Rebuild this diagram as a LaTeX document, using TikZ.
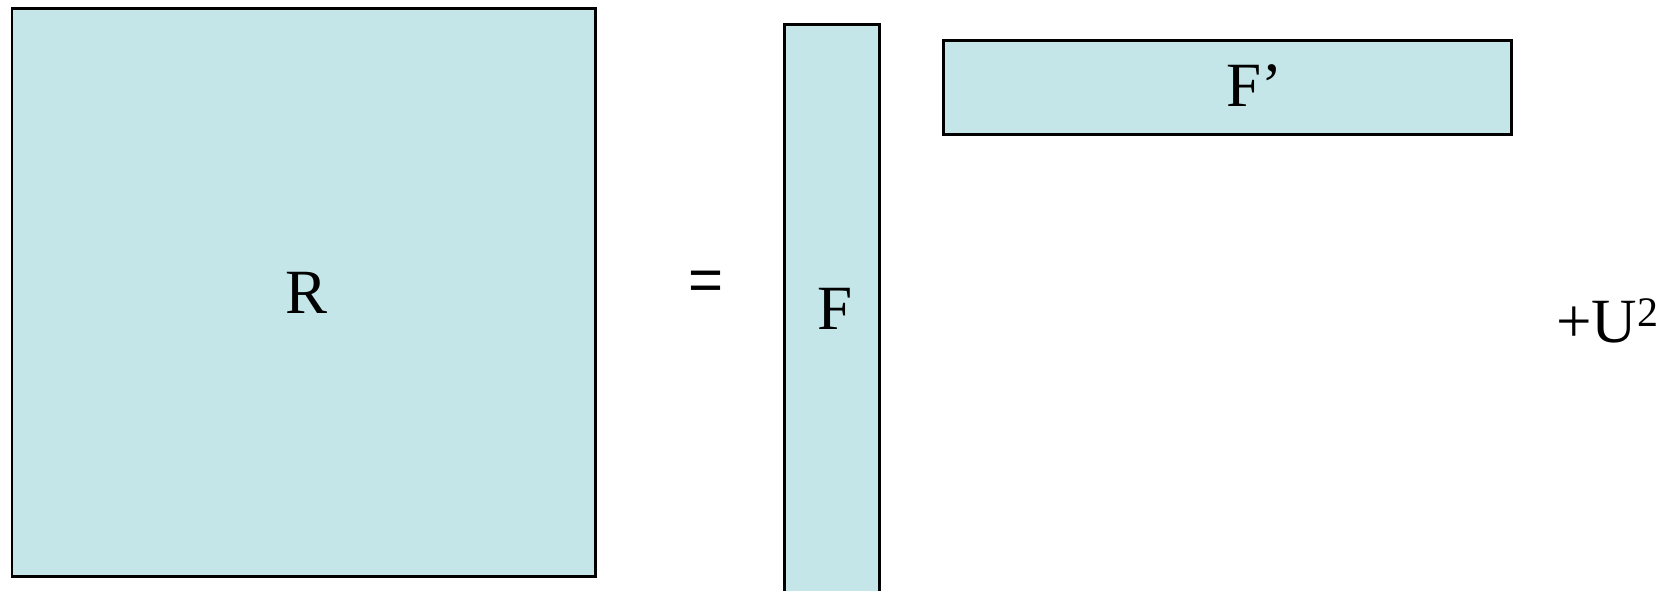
\documentclass[tikz,border=0pt]{standalone}
\usepackage{fontspec}
\setmainfont{Liberation Serif}
\newfontfamily\eqfont{Liberation Sans}
\definecolor{boxfill}{RGB}{196,230,232}
\begin{document}
\begin{tikzpicture}[x=1pt,y=-1pt,
  mat/.style={draw=black, fill=boxfill, line width=2.8pt, inner sep=0pt, anchor=north west},
  lbl/.style={inner sep=0pt, font=\fontsize{63}{70}\selectfont}]
\useasboundingbox (0,0) rectangle (1667,590);
\clip (0,0) rectangle (1667,590);
\node[mat, minimum width=583.5pt, minimum height=567.5pt] (R) at (10.5,7.2) {};
\node[mat, minimum width=95pt, minimum height=580pt] (F) at (783.3,22.7) {};
\node[mat, minimum width=568.3pt, minimum height=94.6pt] (Fp) at (941.7,38.7) {};
\node[lbl, anchor=base] (Rt) at (306.7,313.3) {R};
\node[lbl, anchor=base] (Ft) at (835,329.3) {F};
\node[lbl, anchor=base west] (Fpt) at (1226,106) {F’};
\node[lbl, anchor=center, font=\eqfont\fontsize{60}{70}\selectfont] (eq) at (706.3,286) {=};
\node[lbl, anchor=base west] (U) at (1556,342.7) {+U\raisebox{16pt}{\fontsize{42}{46}\selectfont 2}};
\end{tikzpicture}
\end{document}
